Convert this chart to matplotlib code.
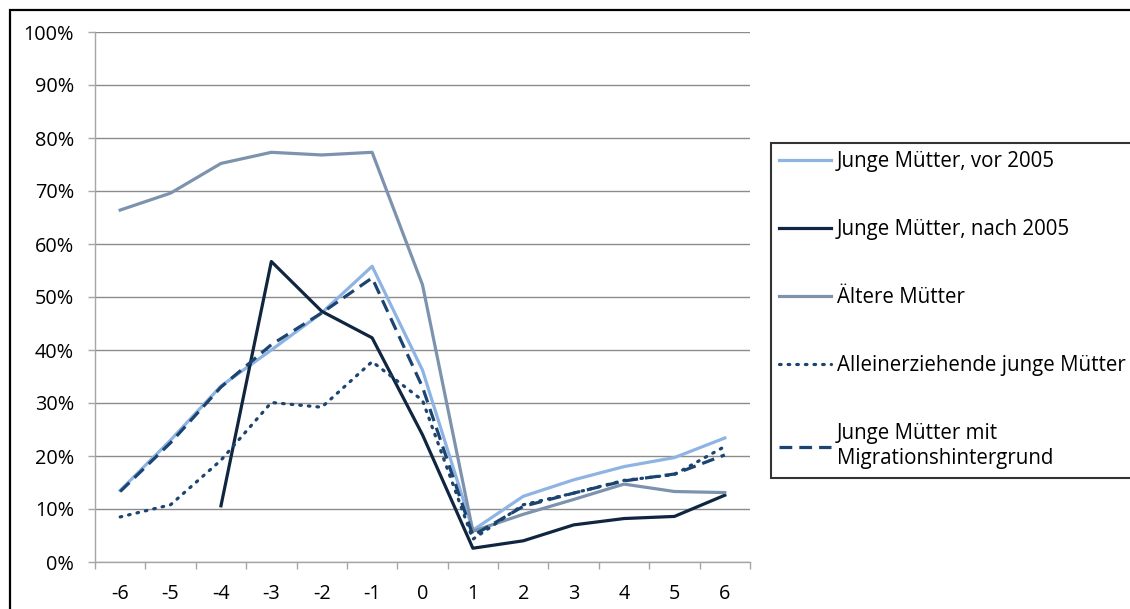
import numpy as np
import matplotlib
matplotlib.use("Agg")
import matplotlib.pyplot as plt
from matplotlib.patches import Rectangle
from matplotlib.ticker import FixedLocator, PercentFormatter

plt.rcParams['font.family'] = ['Open Sans', 'DejaVu Sans']
plt.rcParams['axes.unicode_minus'] = False

# Jahre relativ zur Geburt
years = [-6, -5, -4, -3, -2, -1, 0, 1, 2, 3, 4, 5, 6]

# Anteile in %
vor_2005 = [13.5, 23.0, 33.2, 40.0, 47.0, 55.8, 36.2, 6.0, 12.4, 15.5, 18.0, 19.7, 23.4]
nach_2005 = [np.nan, np.nan, 10.6, 56.7, 47.3, 42.3, 24.0, 2.6, 4.0, 7.0, 8.2, 8.6, 12.6]
aeltere = [66.4, 69.6, 75.2, 77.3, 76.8, 77.3, 52.3, 5.8, 9.0, 11.8, 14.7, 13.3, 13.1]
alleinerziehend = [8.5, 10.8, 19.2, 30.1, 29.2, 37.8, 30.5, 4.3, 10.8, 13.0, 15.4, 16.5, 21.8]
migration = [13.3, 22.5, 33.0, 41.0, 47.0, 53.6, 33.0, 5.0, 10.5, 13.0, 15.3, 16.6, 20.2]

labels = ["Junge Mütter, vor 2005", "Junge Mütter, nach 2005", "Ältere Mütter",
          "Alleinerziehende junge Mütter", "Junge Mütter mit\nMigrationshintergrund"]

fig = plt.figure(figsize=(11.3, 6.09), dpi=100)
ax = fig.add_axes([95 / 1130, 1 - 562 / 609, 655 / 1130, 530 / 609])

lw = 2.3
ax.plot(years, vor_2005, color="#8DB4E2", lw=lw, label=labels[0])
ax.plot(years, nach_2005, color="#10253F", lw=lw, label=labels[1])
ax.plot(years, aeltere, color="#7D93AD", lw=lw, label=labels[2])
ax.plot(years, alleinerziehend, color="#1B4470", lw=2.3, linestyle=(0, (0.5, 2.2)),
        dash_capstyle="round", label=labels[3])
ax.plot(years, migration, color="#1B4470", lw=lw, linestyle=(0, (4, 2.2)), label=labels[4])

ax.set_xlim(-6.5, 6.5)
ax.set_ylim(0, 100)

# y-Achse
ax.set_yticks(np.arange(0, 101, 10))
ax.yaxis.set_major_formatter(PercentFormatter(decimals=0))
ax.tick_params(axis="y", length=5, width=1, color="#A6A6A6", pad=10, labelsize=14.3)
ax.grid(axis="y", color="#8C8C8C", lw=1)
ax.set_axisbelow(True)

# x-Achse: Beschriftung mittig, Striche an Kategoriegrenzen
ax.set_xticks(years)
ax.xaxis.set_minor_locator(FixedLocator(np.arange(-6.5, 7, 1)))
ax.tick_params(axis="x", which="major", length=0, pad=16, labelsize=14.3)
ax.tick_params(axis="x", which="minor", length=5, width=1, color="#A6A6A6")

for side in ["top", "right"]:
    ax.spines[side].set_visible(False)
for side in ["left", "bottom"]:
    ax.spines[side].set_color("#A6A6A6")
    ax.spines[side].set_linewidth(1)

top = 1 - 143 / 609
leg = ax.legend(loc="upper left", bbox_to_anchor=(771 / 1130, top - 0.001, 370 / 1130, 0.001),
                bbox_transform=fig.transFigure, mode="expand", fontsize=14.8,
                frameon=True, fancybox=False, edgecolor="black", borderpad=0.4,
                handlelength=2.5, handletextpad=0.3, labelspacing=2.28, borderaxespad=0)
leg.get_frame().set_linewidth(1.5)
for t in leg.get_texts():
    t.set_linespacing(1.3)

# Rahmen um das Diagramm
fig.patches.append(Rectangle((10 / 1130, -0.1), 1.2, 1.1 - 10 / 609, transform=fig.transFigure,
                             fill=False, edgecolor="black", lw=1.6, clip_on=False))

fig.savefig("out.png", dpi=100)
